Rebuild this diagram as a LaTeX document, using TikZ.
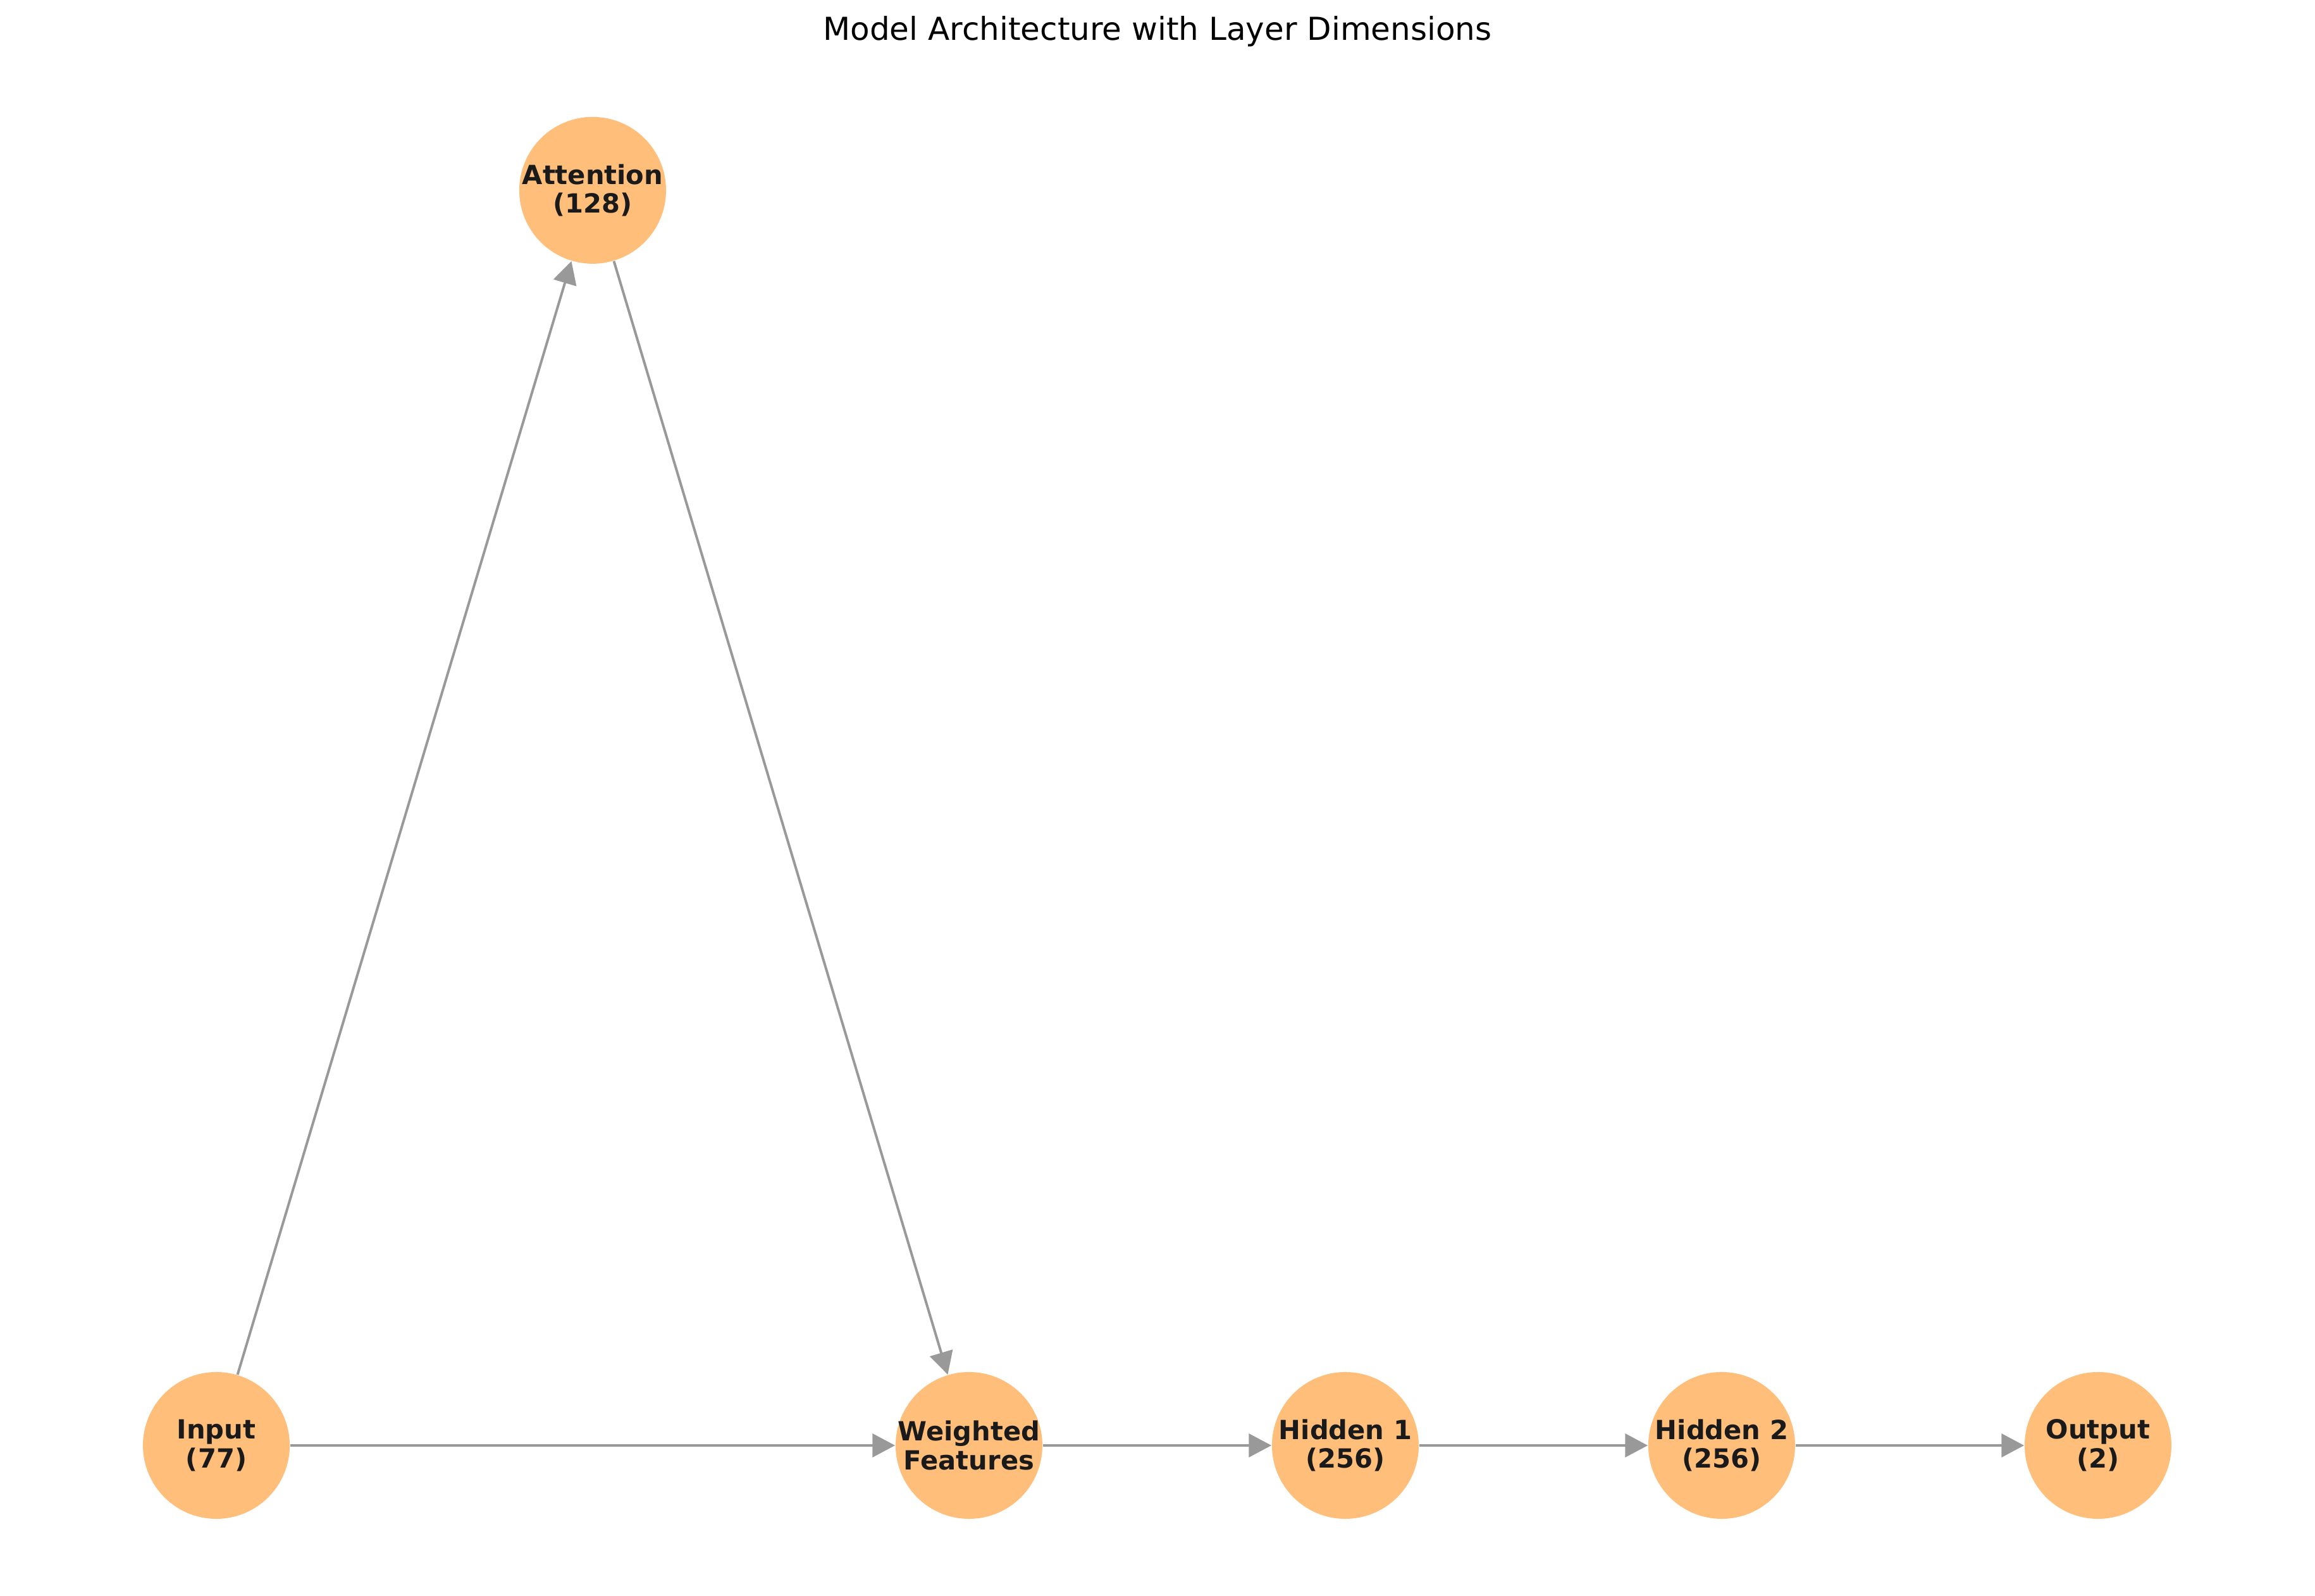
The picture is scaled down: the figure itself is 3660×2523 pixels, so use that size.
\documentclass[tikz,border=0pt]{standalone}
\usepackage{fontspec}
\setmainfont{DejaVu Sans}
\usepackage{xcolor}
\usepackage{tikz}
\usetikzlibrary{arrows.meta}

\definecolor{layerfill}{RGB}{255,191,122}
\definecolor{edgegray}{RGB}{153,153,153}
\definecolor{labeltext}{RGB}{26,26,26}

\begin{document}
\begin{tikzpicture}[x=0.24pt, y=0.24pt, node distance=142.8pt, auto]
    \useasboundingbox (0,0) rectangle (3660,2523);
    % Define styles
    \tikzstyle{layer} = [circle, minimum size=55.7pt, inner sep=-4pt, fill=layerfill, text=labeltext, align=center, font=\bfseries\fontsize{10}{11}\selectfont]
    \tikzstyle{arrow} = [draw=edgegray, line width=0.95pt, -{Triangle[length=8.6pt, width=8.9pt]}]

    % Title
    \node [font=\fontsize{12}{14}\selectfont] (title) at (1830,2473) {Model Architecture with Layer Dimensions};

    % Nodes
    \node [layer] (input) at (342,238) {Input\\(77)};
    \node [layer, right of=input, yshift=476.2pt] (attention) {Attention\\(128)};
    \node [layer, right of=input, xshift=142.8pt] (weighted) {Weighted\\Features};
    \node [layer, right of=weighted] (hidden1) {Hidden 1\\(256)};
    \node [layer, right of=hidden1] (hidden2) {Hidden 2\\(256)};
    \node [layer, right of=hidden2] (output) {Output\\(2)};

    % Arrows
    \draw [arrow] (input) -- (attention);
    \draw [arrow] (attention) -- (weighted);
    \draw [arrow] (input) -- (weighted);
    \draw [arrow] (weighted) -- (hidden1);
    \draw [arrow] (hidden1) -- (hidden2);
    \draw [arrow] (hidden2) -- (output);

\end{tikzpicture}
\end{document}
